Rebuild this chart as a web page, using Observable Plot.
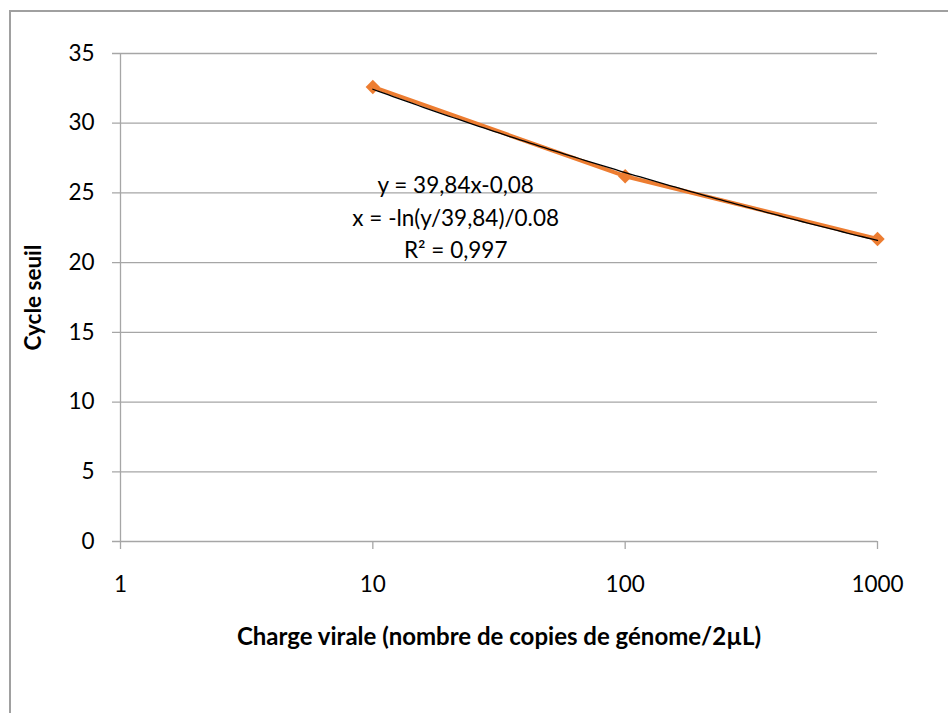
<!DOCTYPE html>
<html>
<head>
<meta charset="utf-8">
<script src="https://cdn.jsdelivr.net/npm/d3@7"></script>
<script src="https://cdn.jsdelivr.net/npm/@observablehq/plot@0.6"></script>
<style>
  html, body { margin: 0; padding: 0; background: #fff; overflow: hidden; }
  #frame { position: absolute; left: 9px; top: 10px; width: 1000px; height: 800px; border: 2px solid #a0a0a0; box-sizing: border-box; }
  #chart { position: absolute; left: 0; top: 0; }
  #chart svg text { font-size: 22.5px; }
  g[aria-label="x-axis label"] text { font-weight: bold; font-size: 24px !important; }
  g[aria-label="y-axis label"] text { font-weight: bold; }
</style>
</head>
<body>
<div id="frame"></div>
<div id="chart"></div>
<script>
// Data
const charge = [10, 100, 1000];          // copies de génome / 2µL
const cycle = [32.6, 26.2, 21.7];        // cycle seuil
const xTicks = [1, 10, 100, 1000];
const yTicks = [0, 5, 10, 15, 20, 25, 30, 35];
const equationLines = ["y = 39,84x-0,08", "x = -ln(y/39,84)/0.08", "R² = 0,997"];

const points = charge.map((c, i) => ({x: c, y: cycle[i]}));

// Power trend line (least squares in log-log space) computed from the data
const lx = charge.map(Math.log), ly = cycle.map(Math.log);
const mx = d3.mean(lx), my = d3.mean(ly);
const b = d3.sum(lx.map((v, i) => (v - mx) * (ly[i] - my))) / d3.sum(lx.map(v => (v - mx) ** 2));
const a = Math.exp(my - b * mx);
const trend = d3.range(0, 101).map(i => {
  const x = Math.pow(10, 1 + 2 * i / 100);
  return {x, y: a * Math.pow(x, b)};
});

const font = "Lato, 'Open Sans', sans-serif";
const grid = "#a6a6a6";

const chart = Plot.plot({
  width: 948,
  height: 713,
  marginLeft: 120,
  marginRight: 71,
  marginTop: 53,
  marginBottom: 172,
  style: {fontFamily: font, fontSize: "22px", color: "#000", background: "transparent", overflow: "visible"},
  x: {type: "log", domain: [1, 1000]},
  y: {domain: [0, 35]},
  marks: [
    Plot.ruleY(yTicks, {y: d => d, x1: 1, x2: 1000, stroke: grid, strokeWidth: 1.3, insetLeft: -8}),
    Plot.ruleX([1], {y1: 0, y2: 35, stroke: grid, strokeWidth: 1.3}),
    Plot.axisY({ticks: yTicks, tickSize: 0, tickPadding: 26, tickFormat: d => String(d), label: "Cycle seuil", labelAnchor: "center", labelArrow: "none", labelOffset: 95, fontSize: 22}),
    Plot.axisX({ticks: xTicks, tickSize: 8, stroke: grid, strokeWidth: 1.3, tickPadding: 27, tickFormat: d => String(d), label: "Charge virale (nombre de copies de génome/2µL)", labelAnchor: "center", labelArrow: "none", labelOffset: 103, fontSize: 22}),
    Plot.line(points, {x: "x", y: "y", stroke: "#ED7D31", strokeWidth: 4}),
    Plot.dot(points, {x: "x", y: "y", symbol: "diamond2", r: 6.5, fill: "#ED7D31", stroke: "none"}),
    Plot.line(trend, {x: "x", y: "y", stroke: "#000", strokeWidth: 1.3}),
    Plot.text([equationLines.join("\n")], {x: 21.3, y: 23.4, text: d => d, fontSize: 22, lineHeight: 1.45, textAnchor: "middle", lineAnchor: "middle", fill: "#000"})
  ]
});
document.getElementById("chart").appendChild(chart);
</script>
</body>
</html>
